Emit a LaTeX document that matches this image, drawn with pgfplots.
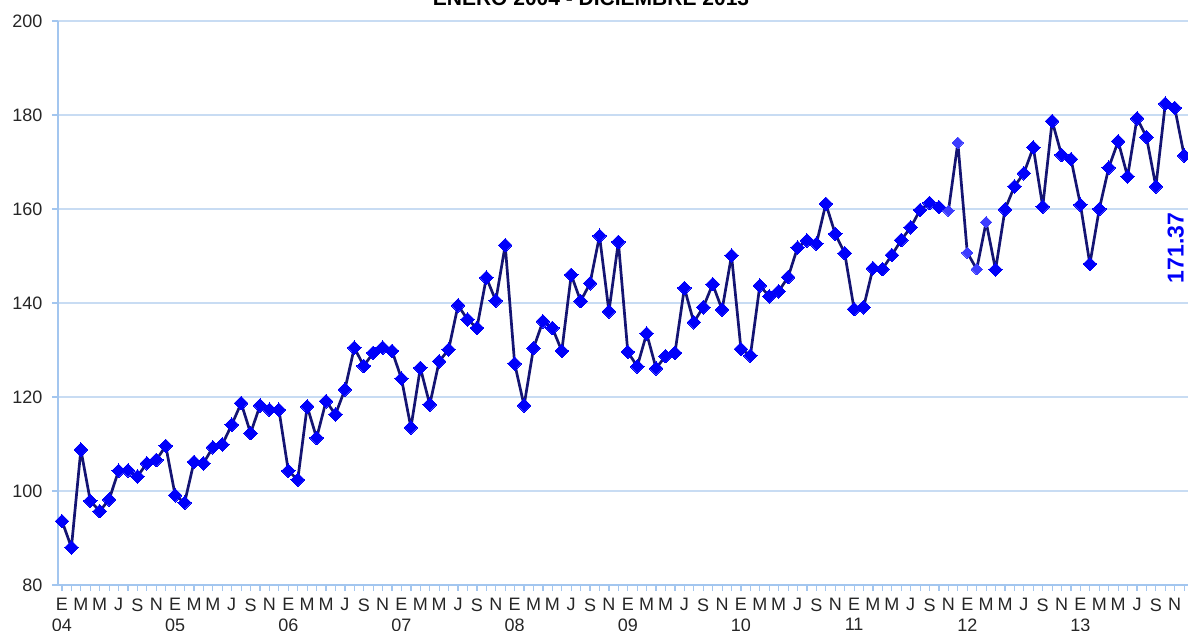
\documentclass[border=0pt]{standalone}
\usepackage{pgfplots}
\pgfplotsset{compat=1.18}
\usepackage{pgfplotstable}
\usepackage{fontspec}
\setmainfont{Liberation Sans}
\definecolor{navyline}{RGB}{20,20,115}
\definecolor{markblue}{RGB}{0,0,250}
\definecolor{lightmark}{RGB}{60,60,255}
\definecolor{axisblue}{RGB}{163,198,239}
\definecolor{gridblue}{RGB}{200,220,243}
\pgfplotstableread{
idx val
0 93.6
1 88.0
2 108.8
3 97.9
4 95.7
5 98.2
6 104.3
7 104.4
8 103.1
9 105.9
10 106.6
11 109.6
12 99.1
13 97.5
14 106.2
15 105.9
16 109.3
17 109.9
18 114.1
19 118.7
20 112.3
21 118.2
22 117.3
23 117.3
24 104.3
25 102.4
26 118.0
27 111.3
28 119.1
29 116.3
30 121.6
31 130.5
32 126.6
33 129.4
34 130.5
35 129.8
36 123.9
37 113.5
38 126.2
39 118.4
40 127.6
41 130.1
42 139.5
43 136.5
44 134.7
45 145.4
46 140.5
47 152.3
48 127.1
49 118.2
50 130.4
51 136.1
52 134.7
53 129.8
54 146.0
55 140.4
56 144.2
57 154.3
58 138.2
59 153.0
60 129.6
61 126.5
62 133.5
63 126.1
64 128.7
65 129.4
66 143.2
67 135.9
68 139.1
69 144.0
70 138.6
71 150.1
72 130.2
73 128.8
74 143.7
75 141.4
76 142.5
77 145.5
78 151.8
79 153.3
80 152.6
81 161.1
82 154.7
83 150.6
84 138.7
85 139.1
86 147.4
87 147.2
88 150.2
89 153.4
90 156.1
91 159.8
92 161.3
93 160.4
94 159.6
95 174.1
96 150.7
97 147.2
98 157.2
99 147.1
100 159.9
101 164.8
102 167.6
103 173.1
104 160.5
105 178.7
106 171.5
107 170.6
108 160.9
109 148.3
110 160.0
111 168.8
112 174.4
113 166.9
114 179.3
115 175.3
116 164.8
117 182.4
118 181.5
119 171.37
}\datatable
\begin{document}
\begin{tikzpicture}
\begin{axis}[
  scale only axis,
  width=1135.6pt, height=564pt,
  xmin=-0.424, xmax=120, ymin=80, ymax=200,
  axis x line*=bottom, axis y line*=left,
  axis line style={color=axisblue, line width=1.8pt},
  ytick={80,100,...,200},
  ymajorgrids,
  grid style={color=gridblue, line width=1.3pt},
  xtick={0,2,...,118},
  minor xtick={1,3,...,119},
  xticklabels={E,M,M,J,S,N,E,M,M,J,S,N,E,M,M,J,S,N,E,M,M,J,S,N,E,M,M,J,S,N,E,M,M,J,S,N,E,M,M,J,S,N,E,M,M,J,S,N,E,M,M,J,S,N,E,M,M,J,S,N},
  extra x ticks={0,12,...,108},
  extra x tick labels={04,05,06,07,08,09,10,11,12,13},
  extra x tick style={major tick length=0pt, xticklabel style={yshift=-26pt}},
  tick align=outside,
  major tick length=6pt, minor tick length=6pt,
  tick style={color=axisblue, line width=1.2pt},
  every tick label/.append style={font=\fontsize{18}{18}\selectfont, text=black!85},
  /pgf/number format/assume math mode=true,
  xticklabel style={yshift=-4pt},
  yticklabel style={xshift=-6pt},
  clip=false,
]
\addplot[navyline, line width=2.7pt, no markers, line join=round] table[x=idx, y=val] {\datatable};
\addplot[only marks, mark=square*, mark size=4.8pt, mark options={rotate=45, fill=markblue, draw=markblue, line width=0pt}, skip coords between index={94}{99}] table[x=idx, y=val] {\datatable};
\addplot[only marks, mark=square*, mark size=4.0pt, mark options={rotate=45, fill=lightmark, draw=lightmark, line width=0pt}] coordinates {(94,159.6) (95,174.1) (96,150.7) (97,147.2) (98,157.2)};
\node[rotate=90, text=markblue, font=\fontsize{23}{23}\selectfont\bfseries] at (axis cs:118.1,151.7) {171.37};
\end{axis}
\node[anchor=base, font=\fontsize{21}{21}\selectfont\bfseries] at (533pt,579pt) {ENERO 2004 - DICIEMBRE 2013};
\pgfresetboundingbox
\useasboundingbox (-58pt,-46pt) rectangle (1130pt,585pt);
\end{tikzpicture}
\end{document}
